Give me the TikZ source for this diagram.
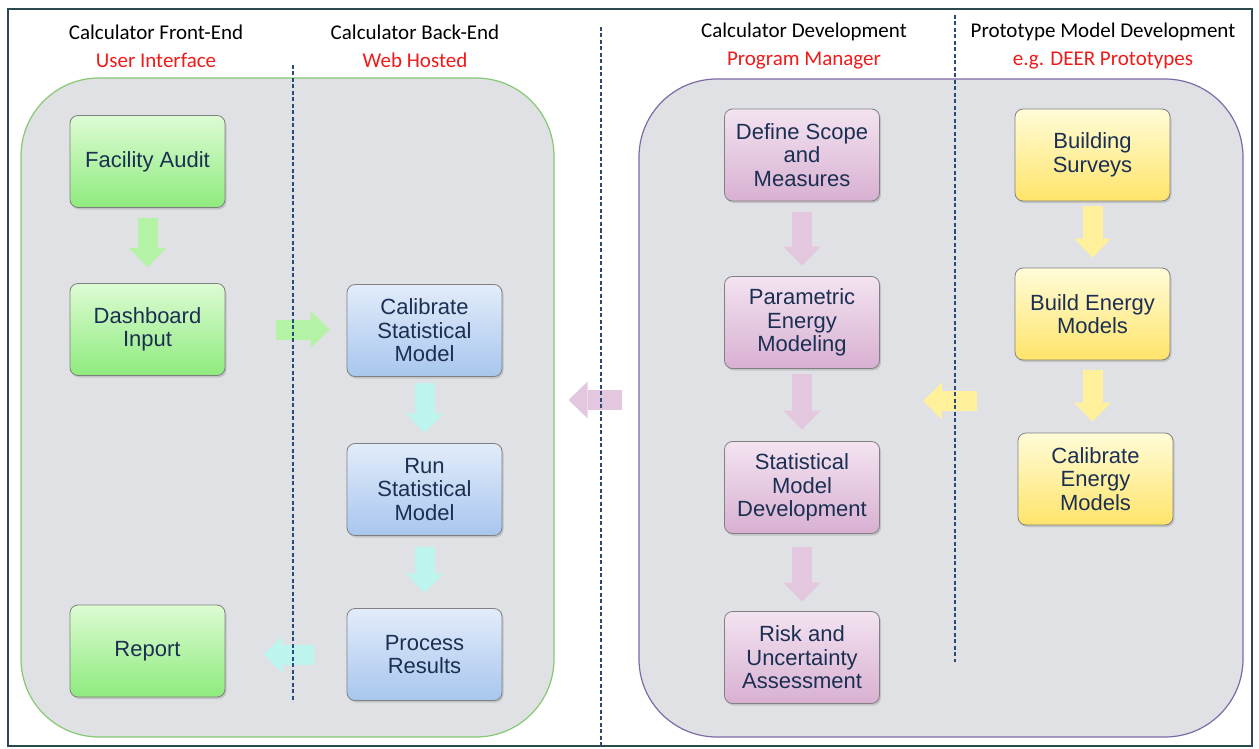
\documentclass[tikz,border=0pt]{standalone}
\usepackage{fontspec}
\setmainfont{Liberation Sans}
\newfontfamily\titlefont{Carlito}
\usetikzlibrary{arrows.meta}
\usetikzlibrary{shadows}
\usetikzlibrary{positioning}

\definecolor{boxtext}{HTML}{1B2F52}
\definecolor{panelgray}{HTML}{DFE1E4}
\definecolor{framecol}{HTML}{2B4A4F}
\definecolor{lanecol}{HTML}{2A4A7A}
\definecolor{subred}{HTML}{F01A1A}
\definecolor{greenedge}{HTML}{86C873}
\definecolor{purpleedge}{HTML}{7E6AA6}
\definecolor{greentop}{HTML}{DDFBD3}
\definecolor{greenbot}{HTML}{8EEB7E}
\definecolor{bluetop}{HTML}{E2ECFA}
\definecolor{bluebot}{HTML}{A8C6EE}
\definecolor{pinktop}{HTML}{F3E3F0}
\definecolor{pinkbot}{HTML}{D8B0D2}
\definecolor{yellowtop}{HTML}{FFFCD8}
\definecolor{yellowbot}{HTML}{FFE46A}
\definecolor{greenarrow}{HTML}{B4F3A6}
\definecolor{cyanarrow}{HTML}{BDF5EE}
\definecolor{pinkarrow}{HTML}{E3C7DE}
\definecolor{yellowarrow}{HTML}{FFF09C}

\tikzset{%
	% Specifications for style of nodes:
	base/.style = {rectangle, rounded corners=8pt, draw=black!50, line width=0.8pt,
		minimum width=155pt, minimum height=92pt, inner sep=2pt,
		text centered, align=center, text=boxtext,
		font=\fontsize{22}{23.5}\selectfont,
		drop shadow={shadow xshift=1.5pt, shadow yshift=-2pt, opacity=0.3}},
	frontend/.style = {base, top color=greentop, bottom color=greenbot},
	backend/.style = {base, top color=bluetop, bottom color=bluebot},
	develop/.style = {base, top color=pinktop, bottom color=pinkbot},
	proto/.style = {base, top color=yellowtop, bottom color=yellowbot},
	panel/.style = {rectangle, rounded corners=78pt, fill=panelgray, line width=1.2pt},
	heading/.style = {align=center, font=\titlefont\fontsize{21}{28}\selectfont},
	fat/.style = {line width=20pt, -{Triangle[length=19pt, width=37pt, line width=0pt]}},
	lane/.style = {draw=lanecol, dash pattern=on 4pt off 2.5pt, line width=1.2pt},
}

\begin{document}
\begin{tikzpicture}[x=1pt, y=-1pt, node distance=165pt]
	\useasboundingbox (0,0) rectangle (1259,749);
	\fill[white] (0,0) rectangle (1259,749);
	\draw[framecol, line width=1.5pt] (8,9) rectangle (1252,746);
	% column headings
	\node (fehead) [heading] at (156,46) {Calculator Front-End\\\textcolor{subred}{User Interface}};
	\node (behead) [heading] at (415,46) {Calculator Back-End\\\textcolor{subred}{Web Hosted}};
	\node (devhead) [heading] at (804,46) {Calculator Development\\\textcolor{subred}{Program Manager}};
	\node (prohead) [heading] at (1103,46) {Prototype Model Development\\\textcolor{subred}{e.g. DEER Prototypes}};
	% the two panels
	\node (calcbox) [panel, draw=greenedge, minimum width=533pt, minimum height=659pt] at (287.5,407.5) {};
	\node (devbox) [panel, draw=purpleedge, minimum width=604pt, minimum height=658pt] at (941,408) {};
	% Specification of nodes (position, etc.)
	\node (audit)      [frontend] at (147.5,161.5) {Facility Audit};
	\node (dashboard)  [frontend, below of=audit, yshift=-3pt] {Dashboard\\Input};
	\node (report)     [frontend] at (147.5,651) {Report};
	\node (calstat)    [backend] at (424.5,330.5) {Calibrate\\Statistical\\Model};
	\node (runstat)    [backend, below of=calstat, yshift=6pt] {Run\\Statistical\\Model};
	\node (process)    [backend, below of=runstat] {Process\\Results};
	\node (scope)      [develop] at (802,155) {Define Scope\\and\\Measures};
	\node (parametric) [develop, below of=scope, yshift=-2.5pt] {Parametric\\Energy\\Modeling};
	\node (statdev)    [develop, below of=parametric] {Statistical\\Model\\Development};
	\node (risk)       [develop, below of=statdev, yshift=-5pt] {Risk and\\Uncertainty\\Assessment};
	\node (surveys)    [proto] at (1092.5,155) {Building\\Surveys};
	\node (build)      [proto, below of=surveys, yshift=6pt] {Build Energy\\Models};
	\node (calibem)    [proto, below of=build, xshift=3pt] {Calibrate\\Energy\\Models};
	\coordinate (protoout) at (977,401);
	\coordinate (devin) at (923,401);
	% block arrows
	\draw[fat, greenarrow, shorten <=10pt, shorten >=16pt] (audit) -- (dashboard);
	\draw[fat, greenarrow, shorten <=51pt, shorten >=17pt] (dashboard.east) -- (dashboard.east -| calstat.west);
	\draw[fat, cyanarrow, shorten <=6.5pt, shorten >=10.5pt] (calstat) -- (runstat);
	\draw[fat, cyanarrow, shorten <=11.5pt, shorten >=15.5pt] (runstat) -- (process);
	\draw[fat, cyanarrow, shorten <=33pt, shorten >=38pt] (process.west) -- (process.west -| report.east);
	\draw[fat, pinkarrow, shorten <=11pt, shorten >=10.5pt] (scope) -- (parametric);
	\draw[fat, pinkarrow, shorten <=5.5pt, shorten >=11.5pt] (parametric) -- (statdev);
	\draw[fat, pinkarrow, shorten <=13.5pt, shorten >=9.5pt] (statdev) -- (risk);
	\draw[fat, pinkarrow, shorten <=16pt, shorten >=14pt] ([yshift=8pt]devbox.west) -- ([yshift=8pt]devbox.west -| calcbox.east);
	\draw[fat, yellowarrow, shorten <=5pt, shorten >=10pt] (surveys) -- (build);
	\draw[fat, yellowarrow, shorten <=10pt, shorten >=11pt] (build.south) -- (build.south |- calibem.north);
	\draw[fat, yellowarrow] (protoout) -- (devin);
	% lane separators
	\draw[lane] (293,65) -- (293,702);
	\draw[lane] (601,27) -- (601,746);
	\draw[lane] (955,15) -- (955,662);
\end{tikzpicture}
\end{document}
